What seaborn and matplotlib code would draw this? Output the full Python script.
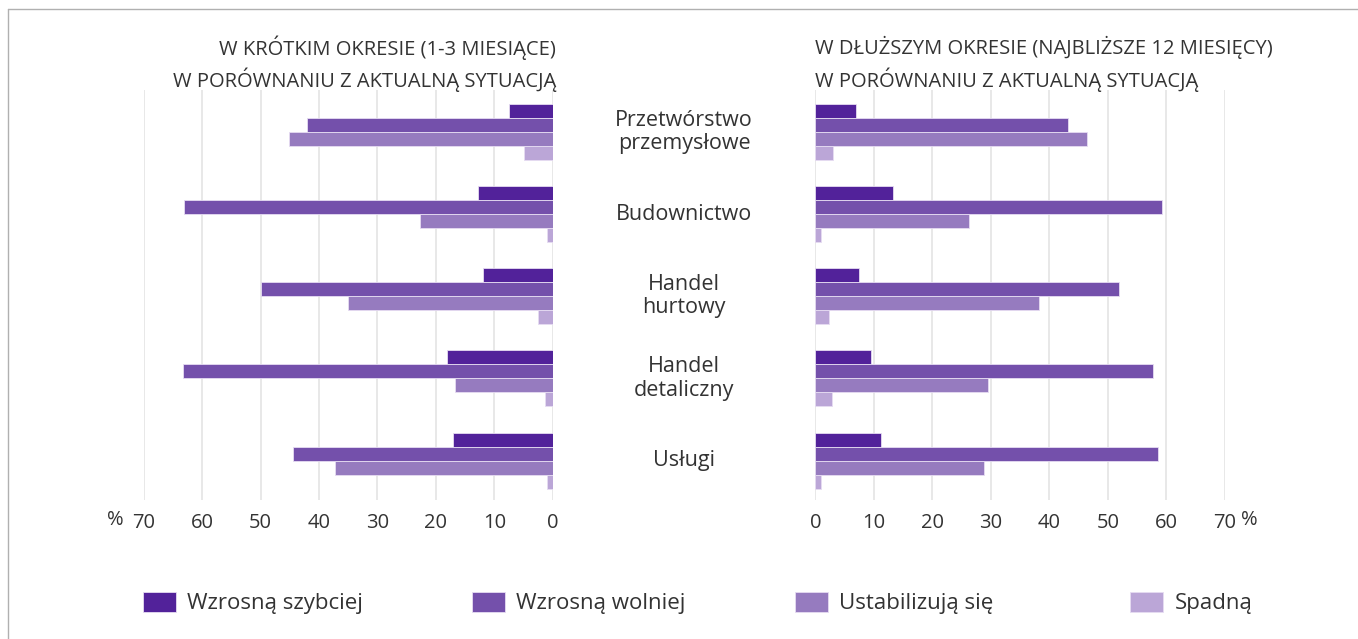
import pandas as pd
import seaborn as sns
import matplotlib.pyplot as plt
from matplotlib.lines import Line2D
from matplotlib.transforms import blended_transform_factory

# data
sectors = ["Przetwórstwo\nprzemysłowe", "Budownictwo", "Handel\nhurtowy",
           "Handel\ndetaliczny", "Usługi"]
statuses = ["Wzrosną szybciej", "Wzrosną wolniej", "Ustabilizują się", "Spadną"]

short_faster = [7.5, 12.7, 11.9, 18.1, 17.0]
short_slower = [42.1, 63.1, 49.9, 63.3, 44.4]
short_stable = [45.1, 22.7, 35.1, 16.7, 37.2]
short_fall = [4.9, 0.9, 2.6, 1.4, 0.9]

long_faster = [7.0, 13.3, 7.4, 9.6, 11.2]
long_slower = [43.2, 59.3, 51.9, 57.8, 58.6]
long_stable = [46.4, 26.2, 38.2, 29.5, 28.8]
long_fall = [3.1, 0.9, 2.3, 2.9, 1.0]

ticks = [0, 10, 20, 30, 40, 50, 60, 70]
header_short = "W KRÓTKIM OKRESIE (1-3 MIESIĄCE)\nW PORÓWNANIU Z AKTUALNĄ SYTUACJĄ"
header_long = "W DŁUŻSZYM OKRESIE (NAJBLIŻSZE 12 MIESIĘCY)\nW PORÓWNANIU Z AKTUALNĄ SYTUACJĄ"

palette = ["#52229a", "#7450ab", "#967bbf", "#bba6d7"]


def to_long(series):
    rows = []
    for status, vals in zip(statuses, series):
        for sector, v in zip(sectors, vals):
            rows.append({"sector": sector, "status": status, "value": v})
    return pd.DataFrame(rows)


df_short = to_long([short_faster, short_slower, short_stable, short_fall])
df_long = to_long([long_faster, long_slower, long_stable, long_fall])

sns.set_theme(style="white")
plt.rcParams["font.family"] = ["Open Sans", "DejaVu Sans"]
text_col = "#333333"

fig = plt.figure(figsize=(13.58, 6.39), dpi=100)
ax_l = fig.add_axes([0.1058, 0.2175, 0.3012, 0.6416])
ax_r = fig.add_axes([0.6004, 0.2175, 0.3015, 0.6416])

for ax, df in [(ax_l, df_short), (ax_r, df_long)]:
    sns.barplot(data=df, y="sector", x="value", hue="status", orient="h",
                palette=palette, saturation=1, width=0.68, order=sectors,
                hue_order=statuses, edgecolor="#e6dcf2", linewidth=0.6,
                ax=ax, legend=(ax is ax_l))
    ax.set_xticks(ticks)
    ax.set_xticklabels([str(t) for t in ticks], fontsize=14.5, color=text_col)
    ax.set_ylim(4.48, -0.51)
    ax.set_yticks([])
    ax.set_xlabel("")
    ax.set_ylabel("")
    ax.grid(axis="x", color="#e2e2e2", linewidth=1.1)
    ax.set_axisbelow(True)
    ax.tick_params(axis="x", length=0, pad=9)
    for s in ax.spines.values():
        s.set_visible(False)

ax_l.set_xlim(70, 0)
ax_r.set_xlim(0, 70)

handles, labels = ax_l.get_legend_handles_labels()
ax_l.get_legend().remove()

# percent signs next to the 70 labels
fig.text(107 / 1358, 1 - 520 / 639, "%", fontsize=14.5, color=text_col, ha="left", va="center")
fig.text(1241 / 1358, 1 - 520 / 639, "%", fontsize=14.5, color=text_col, ha="left", va="center")

# panel headers
fig.text(556 / 1358, 1 - 64 / 639, header_short, fontsize=14.5,
         color=text_col, ha="right", va="center", linespacing=1.4)
fig.text(815 / 1358, 1 - 64 / 639, header_long, fontsize=14.5,
         color=text_col, ha="left", va="center", linespacing=1.4)

# sector names in the middle
tr = blended_transform_factory(fig.transFigure, ax_l.transData)
for i, name in enumerate(sectors):
    fig.text(684 / 1358, i, name, transform=tr, fontsize=15.5, color=text_col,
             ha="center", va="center", linespacing=1.15)

# legend entries at the positions of the reference
legend_x = [143, 472, 795, 1130]
for h, lab, x in zip(handles, labels, legend_x):
    fig.legend([h], [lab], loc="center left", bbox_to_anchor=(x / 1358, 1 - 603 / 639),
               frameon=False, prop={"size": 16}, handlelength=1.5, handleheight=1.0,
               borderpad=0, borderaxespad=0, handletextpad=0.5, labelcolor=text_col)

# frame lines of the original layout
fig.add_artist(Line2D([8 / 1358, 1], [1 - 9 / 639, 1 - 9 / 639],
                      color="#b0b0b0", linewidth=1, transform=fig.transFigure))
fig.add_artist(Line2D([8 / 1358, 8 / 1358], [0, 1 - 9 / 639],
                      color="#b0b0b0", linewidth=1, transform=fig.transFigure))

fig.savefig("out.png", dpi=100, facecolor="white")
